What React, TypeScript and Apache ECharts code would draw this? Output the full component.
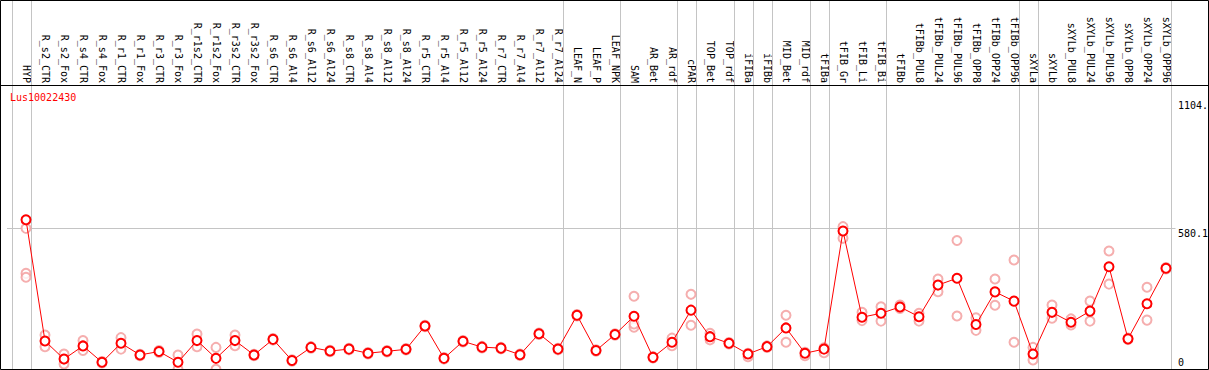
import React, { useEffect, useRef } from "react";
import * as echarts from "echarts";

const geneName = "Lus10022430";

const categories = [
  "HYP", "R_s2_CTR", "R_s2_Fox", "R_s4_CTR", "R_s4_Fox", "R_r1_CTR", "R_r1_Fox",
  "R_r3_CTR", "R_r3_Fox", "R_r1s2_CTR", "R_r1s2_Fox", "R_r3s2_CTR", "R_r3s2_Fox",
  "R_s6_CTR", "R_s6_Al4", "R_s6_Al12", "R_s6_Al24", "R_s8_CTR", "R_s8_Al4",
  "R_s8_Al12", "R_s8_Al24", "R_r5_CTR", "R_r5_Al4", "R_r5_Al12", "R_r5_Al24",
  "R_r7_CTR", "R_r7_Al4", "R_r7_Al12", "R_r7_Al24", "LEAF_N", "LEAF_P", "LEAF_NPK",
  "SAM", "AR_Bet", "AR_rdf", "cPAR", "TOP_Bet", "TOP_rdf", "iFIBa", "iFIBb",
  "MID_Bet", "MID_rdf", "tFIBa", "tFIB_Gr", "tFIB_Li", "tFIB_Bi", "tFIBb",
  "tFIBb_PUL8", "tFIBb_PUL24", "tFIBb_PUL96", "tFIBb_OPP8", "tFIBb_OPP24",
  "tFIBb_OPP96", "sXYLa", "sXYLb", "sXYLb_PUL8", "sXYLb_PUL24", "sXYLb_PUL96",
  "sXYLb_OPP8", "sXYLb_OPP24", "sXYLb_OPP96",
];

const meanValues = [
  614, 116, 42, 96, 29, 107, 59, 73, 29, 118, 45, 118, 59,
  123, 36, 90, 75, 83, 66, 74, 82, 178, 45, 115, 91, 87, 60, 146, 83,
  222, 77, 143, 218, 49, 111, 243, 134, 107, 63, 93, 170, 66, 83,
  568, 214, 230, 256, 216, 346, 374, 184, 318, 280,
  63, 234, 193, 239, 421, 125, 269, 415,
];

const rep1 = [
  579, 141, 63, 118, 32, 130, 62, 77, 59, 145, 90, 141, 62,
  126, 39, 93, 78, 86, 69, 77, 85, 181, 48, 118, 94, 90, 63, 149, 86,
  225, 80, 146, 300, 52, 128, 308, 148, 110, 52, 96, 222, 56, 68,
  586, 234, 257, 264, 230, 371, 529, 212, 371, 449,
  90, 264, 207, 280, 486, 128, 337, 418,
];

const rep2 = [
  394, 93, 22, 77, 26, 83, 56, 69, 0, 93, 0, 97, 56,
  120, 33, 87, 72, 80, 63, 71, 79, 175, 42, 112, 88, 84, 57, 143, 80,
  219, 74, 140, 173, 46, 97, 181, 121, 104, 66, 90, 111, 70, 88,
  538, 200, 198, 250, 198, 319, 219, 160, 263, 111,
  38, 210, 182, 198, 350, 122, 202, 412,
];

const rep3: (number | null)[] = [
  378, null, null, null, null, null, null, null, null, null, null, null, null,
  null, null, null, null, null, null, null, null, null, null, null, null, null, null, null, null,
  null, null, null, 186, null, null, null, null, null, null, null, null, null, null,
  null, null, null, null, null, null, null, null, null, null,
  null, null, null, null, null, null, null, null,
];

// last category index of each group (group separators)
const groupEnds = [-1, 0, 28, 31, 34, 35, 37, 38, 39, 41, 42, 45, 52, 53, 60];

const yTickValues = [0, 580.1, 1104];
const yTickLabels = ["0", "580.1", "1104."];
const gridLineValue = 580.1;

const FONT = "'DejaVu Sans Mono', monospace";

export default function App() {
  const ref = useRef<HTMLDivElement>(null);

  useEffect(() => {
    if (!ref.current) return;
    const chart = echarts.init(ref.current, undefined, { renderer: "svg" });

    const meanData = meanValues.map((v, i) => [i, v]);
    const repData: number[][] = [];
    [rep1, rep2, rep3].forEach((arr) =>
      arr.forEach((v, i) => {
        if (v !== null && v !== undefined) repData.push([i, v as number]);
      })
    );

    chart.setOption({
      animation: false,
      backgroundColor: "#ffffff",
      title: {
        text: geneName,
        left: 10,
        top: 91,
        padding: 0,
        textStyle: { color: "#ff0000", fontFamily: FONT, fontSize: 10, fontWeight: "normal", lineHeight: 12 },
      },
      graphic: [
        {
          type: "rect",
          shape: { x: 0.5, y: 0.5, width: 1208, height: 369 },
          style: { fill: "none", stroke: "#000000", lineWidth: 1 },
          z: 100,
        },
        {
          type: "line",
          shape: { x1: 0, y1: 85.5, x2: 1209, y2: 85.5 },
          style: { stroke: "#000000", lineWidth: 1 },
          z: 100,
        },
      ],
      grid: { left: 7, right: 33.5, top: 0, bottom: 0.7, containLabel: false, outerBoundsMode: "none" },
      xAxis: [
        {
          type: "value",
          min: -1,
          max: 60.5,
          show: false,
        },
        {
          type: "value",
          min: -1,
          max: 60.5,
          position: "top",
          offset: -85,
          axisLine: { show: false },
          axisTick: { show: false },
          splitLine: { show: false },
          axisLabel: {
            customValues: categories.map((_, i) => i),
            formatter: (v: number) => categories[Math.round(v)] ?? "",
            rotate: 90,
            margin: 2,
            color: "#000000",
            fontFamily: FONT,
            fontSize: 10,
          },
        },
      ],
      yAxis: {
        type: "value",
        min: 0,
        max: 1517,
        position: "right",
        axisLine: { show: false },
        axisTick: { show: false },
        splitLine: { show: false },
        axisLabel: {
          customValues: yTickValues,
          margin: 2.5,
          verticalAlign: "middle",
          formatter: (v: number) => {
            const idx = yTickValues.findIndex((t) => Math.abs(t - v) < 1e-6);
            const txt = idx >= 0 ? yTickLabels[idx] : String(v);
            return v === 0 ? `{z|${txt}}` : `{t|${txt}}`;
          },
          rich: {
            t: { fontFamily: FONT, fontSize: 10, color: "#000000", lineHeight: 12, padding: [10, 0, 0, 0] },
            z: { fontFamily: FONT, fontSize: 10, color: "#000000", lineHeight: 12, padding: [0, 0, 14, 0] },
          },
        },
      },
      series: [
        {
          name: "replicates",
          type: "scatter",
          xAxisIndex: 0,
          yAxisIndex: 0,
          data: repData,
          symbol: "emptyCircle",
          symbolSize: 9,
          itemStyle: { color: "#f29a9a", borderColor: "#f29a9a", borderWidth: 1.2 },
          z: 2,
          silent: true,
          markLine: {
            silent: true,
            symbol: "none",
            label: { show: false },
            lineStyle: { color: "#c4c4c4", width: 1, type: "solid" },
            data: [
              ...groupEnds.map((g) => ({ xAxis: g + 0.25 })),
              { yAxis: gridLineValue },
            ],
            z: 1,
          },
        },
        {
          name: "mean",
          type: "line",
          xAxisIndex: 0,
          yAxisIndex: 0,
          data: meanData,
          symbol: "emptyCircle",
          symbolSize: 9,
          lineStyle: { color: "#ff0000", width: 1 },
          itemStyle: { color: "#ff0000", borderColor: "#ff0000", borderWidth: 1.2 },
          z: 3,
          silent: true,
        },
      ],
    });

    return () => chart.dispose();
  }, []);

  return (
    <div
      ref={ref}
      style={{ position: "absolute", left: 0, top: 0, width: 1209, height: 370 }}
    />
  );
}
